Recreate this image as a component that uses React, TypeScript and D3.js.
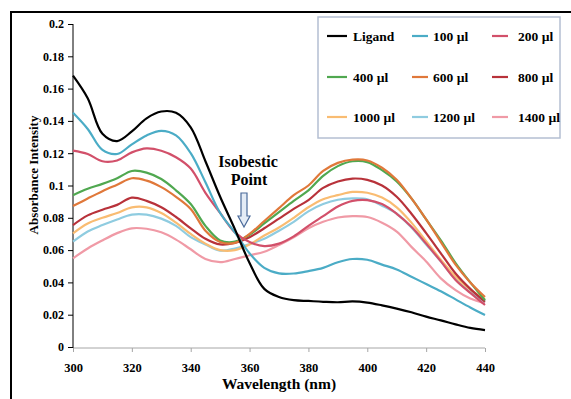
import * as React from "react";
import * as d3 from "d3";

const wavelengths = [
  300, 305, 310, 315, 320, 325, 330, 335, 340, 345, 350, 355, 360, 365, 370,
  375, 380, 385, 390, 395, 400, 405, 410, 415, 420, 425, 430, 435, 440,
];

const ligand = [
  0.168, 0.154, 0.132, 0.1275, 0.1335, 0.1416, 0.1458, 0.145, 0.136, 0.115,
  0.093, 0.073, 0.052, 0.036, 0.031, 0.029, 0.0285, 0.028, 0.0277, 0.0282,
  0.0275, 0.0258, 0.0238, 0.0215, 0.0188, 0.0165, 0.014, 0.0118, 0.0105,
];
const ul100 = [
  0.145, 0.135, 0.122, 0.1195, 0.1255, 0.131, 0.1338, 0.131, 0.12, 0.102,
  0.083, 0.071, 0.058, 0.049, 0.0456, 0.0455, 0.047, 0.049, 0.0525, 0.0545,
  0.054, 0.051, 0.048, 0.0435, 0.039, 0.0345, 0.0295, 0.0245, 0.0198,
];
const ul200 = [
  0.1216, 0.1195, 0.115, 0.1155, 0.1205, 0.123, 0.1215, 0.1175, 0.1105,
  0.0955, 0.083, 0.071, 0.065, 0.0625, 0.064, 0.0685, 0.075, 0.081, 0.087,
  0.0905, 0.091, 0.0885, 0.0825, 0.0745, 0.064, 0.053, 0.0415, 0.0335, 0.026,
];
const ul400 = [
  0.094, 0.098, 0.101, 0.1045, 0.109, 0.108, 0.104, 0.097, 0.0885, 0.075,
  0.066, 0.0652, 0.0695, 0.0765, 0.0835, 0.0905, 0.097, 0.106, 0.112, 0.115,
  0.1145, 0.1095, 0.1025, 0.092, 0.079, 0.066, 0.052, 0.04, 0.029,
];
const ul600 = [
  0.0873, 0.092, 0.0965, 0.1005, 0.1045, 0.103, 0.099, 0.093, 0.0855, 0.072,
  0.065, 0.0645, 0.07, 0.078, 0.086, 0.094, 0.1, 0.109, 0.114, 0.116, 0.1155,
  0.111, 0.1035, 0.092, 0.079, 0.065, 0.051, 0.04, 0.031,
];
const ul800 = [
  0.0755, 0.0815, 0.085, 0.088, 0.0925, 0.0905, 0.0865, 0.0805, 0.0735,
  0.067, 0.0635, 0.0645, 0.068, 0.0735, 0.0795, 0.0855, 0.091, 0.0985,
  0.1025, 0.1043, 0.1035, 0.1, 0.093, 0.0825, 0.0705, 0.058, 0.0455, 0.036,
  0.028,
];
const ul1000 = [
  0.0704, 0.0765, 0.08, 0.083, 0.0865, 0.0865, 0.083, 0.077, 0.07, 0.064,
  0.06, 0.06, 0.0635, 0.069, 0.074, 0.08, 0.0865, 0.0915, 0.094, 0.096,
  0.0955, 0.0925, 0.0865, 0.077, 0.0655, 0.054, 0.0435, 0.0355, 0.0295,
];
const ul1200 = [
  0.0652, 0.0715, 0.0755, 0.079, 0.082, 0.082, 0.0795, 0.075, 0.068, 0.0635,
  0.0597, 0.061, 0.0638, 0.067, 0.072, 0.0775, 0.084, 0.0885, 0.0912, 0.092,
  0.0915, 0.0875, 0.0825, 0.074, 0.0635, 0.053, 0.042, 0.034, 0.028,
];
const ul1400 = [
  0.0549, 0.061, 0.066, 0.0705, 0.0735, 0.0732, 0.071, 0.0665, 0.0605,
  0.0545, 0.0525, 0.0545, 0.0568, 0.059, 0.0632, 0.068, 0.0735, 0.0775,
  0.0802, 0.081, 0.0805, 0.077, 0.0715, 0.062, 0.053, 0.0425, 0.0352, 0.03,
  0.027,
];

const seriesLabels = [
  "Ligand", "100 µl", "200 µl",
  "400 µl", "600 µl", "800 µl",
  "1000 µl", "1200 µl", "1400 µl",
];
const seriesValues = [ligand, ul100, ul200, ul400, ul600, ul800, ul1000, ul1200, ul1400];
const colors = [
  "#000000", "#4bacc6", "#d2506a",
  "#50a850", "#e0783a", "#b8323a",
  "#f9bc72", "#8fcce0", "#f09aa6",
];

const xTicks = [300, 320, 340, 360, 380, 400, 420, 440];
const yTicks = [0, 0.02, 0.04, 0.06, 0.08, 0.1, 0.12, 0.14, 0.16, 0.18, 0.2];

const font = "'Liberation Serif', 'Times New Roman', serif";

export default function App() {
  const ref = React.useRef<SVGSVGElement>(null);

  React.useEffect(() => {
    const svg = d3.select(ref.current);
    svg.selectAll("*").remove();

    const x = d3.scaleLinear().domain([300, 440]).range([73, 485]);
    const y = d3.scaleLinear().domain([0, 0.2]).range([347, 24]);

    // outer frame, cut off on the right and bottom
    svg
      .append("rect")
      .attr("x", 11)
      .attr("y", 12)
      .attr("width", 620)
      .attr("height", 460)
      .attr("fill", "none")
      .attr("stroke", "#000")
      .attr("stroke-width", 2);

    // x axis (grey)
    const gx = svg
      .append("g")
      .attr("transform", "translate(0,348)")
      .call(d3.axisBottom(x).tickValues(xTicks).tickSize(4).tickFormat(d3.format("d")));
    gx.select(".domain").attr("stroke", "#a6a6a6").attr("d", "M73,0H485");
    gx.selectAll(".tick line").attr("stroke", "#a6a6a6");
    gx.selectAll(".tick text")
      .attr("y", 15)
      .attr("fill", "#000")
      .style("font", `bold 12.5px ${font}`);

    // y axis (black)
    const gy = svg
      .append("g")
      .attr("transform", "translate(73,0)")
      .call(
        d3.axisLeft(y).tickValues(yTicks).tickSize(5).tickFormat((d) => String(+d))
      );
    gy.select(".domain").attr("stroke", "#000").attr("d", "M0,24V348");
    gy.selectAll(".tick line").attr("stroke", "#000");
    gy.selectAll(".tick text")
      .attr("x", -9)
      .attr("fill", "#000")
      .style("font", `bold 12px ${font}`);

    svg
      .append("text")
      .attr("x", 279)
      .attr("y", 389)
      .attr("text-anchor", "middle")
      .style("font", `bold 15.5px ${font}`)
      .text("Wavelength (nm)");

    svg
      .append("text")
      .attr("transform", "translate(38,175) rotate(-90)")
      .attr("text-anchor", "middle")
      .style("font", `bold 13px ${font}`)
      .text("Absorbance Intensity");

    // spectra
    const line = d3
      .line<number>()
      .x((_, i) => x(wavelengths[i]))
      .y((d) => y(d))
      .curve(d3.curveCatmullRom.alpha(0.5));

    const order = [8, 7, 6, 5, 3, 4, 2, 1, 0];
    svg
      .append("g")
      .selectAll("path")
      .data(order)
      .enter()
      .append("path")
      .attr("d", (i) => line(seriesValues[i]))
      .attr("fill", "none")
      .attr("stroke", (i) => colors[i])
      .attr("stroke-width", 2.2)
      .attr("stroke-linejoin", "round");

    // isosbestic annotation
    svg
      .append("text")
      .attr("x", 248)
      .attr("y", 167)
      .attr("text-anchor", "middle")
      .style("font", `bold 16px ${font}`)
      .text("Isobestic");
    svg
      .append("text")
      .attr("x", 249)
      .attr("y", 185)
      .attr("text-anchor", "middle")
      .style("font", `bold 16px ${font}`)
      .text("Point");

    const ax = 244;
    svg
      .append("path")
      .attr(
        "d",
        `M${ax - 3},193 H${ax + 3} V216 H${ax + 6} L${ax},227 L${ax - 6},216 H${ax - 3} Z`
      )
      .attr("fill", "#e4ecf6")
      .attr("stroke", "#4a6a9a")
      .attr("stroke-width", 1.2);

    // legend
    const legend = svg.append("g");
    legend
      .append("rect")
      .attr("x", 318)
      .attr("y", 17)
      .attr("width", 242)
      .attr("height", 121)
      .attr("fill", "#fff")
      .attr("stroke", "#b4bfd2")
      .attr("stroke-width", 1.5);

    const colX = [327, 412, 492];
    const rowY = [36, 77, 117];
    const items = legend
      .selectAll("g.item")
      .data(seriesLabels)
      .enter()
      .append("g")
      .attr("class", "item")
      .attr("transform", (_, i) => `translate(${colX[i % 3]},${rowY[Math.floor(i / 3)]})`);
    items
      .append("line")
      .attr("x1", 0)
      .attr("x2", (_, i) => (i % 3 === 0 ? 20 : 16))
      .attr("stroke", (_, i) => colors[i])
      .attr("stroke-width", 2.2);
    items
      .append("text")
      .attr("x", (_, i) => (i % 3 === 1 ? 21 : 26))
      .attr("y", 4.5)
      .style("font", `bold 13.5px ${font}`)
      .text((d) => d);
  }, []);

  return (
    <svg
      ref={ref}
      width={571}
      height={399}
      style={{ position: "absolute", left: 0, top: 0, background: "#fff" }}
    />
  );
}
